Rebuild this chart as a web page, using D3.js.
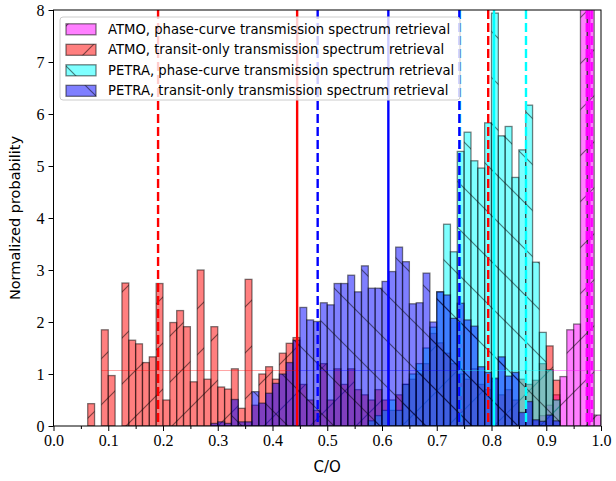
<!DOCTYPE html>
<html><head><meta charset="utf-8">
<script src="https://cdn.jsdelivr.net/npm/d3@7"></script>
<style>body{margin:0;background:#fff}svg{display:block}</style>
</head><body>
<script>
// ---- data ----
const binWidth = 0.0125; // 80 bins over [0,1]
const atmoPhase = [0,0,0,0,0,0,0,0,0,0, 0,0,0,0,0,0,0,0,0,0, 0,0,0,0,0,0,0,0,0,0, 0,0,0,0,0,0,0,0,0,0,
  0,0,0,0,0,0,0,0,0,0, 0,0,0,0,0,0,0,0,0,0, 0,0,0,0,0,0,0,0,0,0, 0.1,0.2,0.4,0.6,0.95,1.85,1.96,12,14,0.21];
const atmoTransit = [0,0,0,0,0,0.43,0,1.85,0.97,0, 2.75,1.65,1.58,1.22,1.33,2.74,0.50,1.99,2.22,1.91,
  0.85,3.0,0.90,1.91,0.75,0.71,1.10,0.34,2.82,0.4, 1.0,1.14,0.9,1.40,1.59,1.7,0.8,0.5,0.3,1.2,
  0.5,1.1,0.8,1.1,0.7,0.6,0.5,0.7,0.5,0.3, 0.6,0.8,0.9,1.0,1.2,1.78,1.6,1.4,1.2,1.0,
  0.9,1.1,0.8,0.7,0.9,0.6,0.7,0.5,0.9,0.8, 0.88,1.2,1.54,0.88,0,0,0,0,0,0];
const petraPhase = [0,0,0,0,0,0,0,0,0,0, 0,0,0,0,0,0,0,0,0,0, 0,0,0,0,0,0,0,0,0,0, 0,0,0,0,0,0,0,0,0,0,
  0,0,0,0,0,0,0.1,0.2,0.3,0.5, 0.3,0.8,1.0,1.2,1.5,1.9,2.58,3.88,3.35,5.28,
  5.65,5.1,4.96,5.83,7.94,5.58,5.76,4.78,5.31,6.17, 3.15,1.80,1.08,0.5,0,0,0,0,0,0];
const petraTransit = [0,0,0,0,0,0,0,0,0,0, 0,0,0,0,0,0,0,0,0,0, 0,0,0,0.05,0.08,0.05,0.51,0.08,0.08,0.66,
  0.44,0.63,0.82,1.0,1.22,1.65,2.28,2.04,2.01,2.37, 2.33,2.74,2.74,2.90,2.58,3.08,2.65,2.65,2.78,2.97,
  3.44,3.16,2.35,2.37,2.94,2.0,2.58,2.52,2.07,2.36, 2.04,1.92,1.14,1.03,0.92,1.33,0.96,1.03,0.26,0.47,
  0.12,0.09,0.21,0.1,0,0,0,0,0,0];
const seriesLabels = ["ATMO, phase-curve transmission spectrum retrieval",
  "ATMO, transit-only transmission spectrum retrieval",
  "PETRA, phase-curve transmission spectrum retrieval",
  "PETRA, transit-only transmission spectrum retrieval"];
const seriesColors = ["#ff00ff","#ff0000","#00ffff","#0000ff"];
const seriesHatch = ["fwd","fwd","back","back"];
// medians and 1-sigma bounds per series
const medians = [0.9786, 0.445, 0.8046, 0.6116];
const lowers  = [0.974, 0.191, 0.7425, 0.4825];
const uppers  = [0.983, 0.794, 0.863, 0.7413];
// thin reference level (flat prior density) segments
const priorLevel = 1.067;
const priorStart = [0.91, 0.0875, 0.7413, 0.445];
const priorEnd   = [1.0, 0.445, 0.91, 0.7413];
const xTicks = [0,0.1,0.2,0.3,0.4,0.5,0.6,0.7,0.8,0.9,1.0];
const xMinor = [0.05,0.15,0.25,0.35,0.45,0.55,0.65,0.75,0.85,0.95];
const yTicks = [0,1,2,3,4,5,6,7,8];

// ---- layout ----
const W=616,H=481, L=53.5, R=601, T=10, B=426;
const svg=d3.select("body").append("svg").attr("width",W).attr("height",H);
const x=d3.scaleLinear().domain([0,1]).range([L,R]);
const y=d3.scaleLinear().domain([0,8]).range([B,T]);
const defs=svg.append("defs");
const sp=46;
const pf=defs.append("pattern").attr("id","fwd").attr("patternUnits","userSpaceOnUse").attr("width",sp).attr("height",sp);
pf.append("path").attr("d",`M0,${sp} L${sp},0 M${-sp/2},${sp/2} L${sp/2},${-sp/2} M${sp/2},${sp*1.5} L${sp*1.5},${sp/2}`).attr("stroke","#000").attr("stroke-width",1.2).attr("fill","none");
const pb=defs.append("pattern").attr("id","back").attr("patternUnits","userSpaceOnUse").attr("width",sp).attr("height",sp);
pb.append("path").attr("d",`M0,0 L${sp},${sp} M${-sp/2},${sp/2} L${sp/2},${sp*1.5} M${sp/2},${-sp/2} L${sp*1.5},${sp/2}`).attr("stroke","#000").attr("stroke-width",1.2).attr("fill","none");
defs.append("clipPath").attr("id","clip").append("rect").attr("x",L).attr("y",T).attr("width",R-L).attr("height",B-T);

const plot=svg.append("g").attr("clip-path","url(#clip)");
const allSeries=[atmoPhase,atmoTransit,petraPhase,petraTransit];
allSeries.forEach((vals,si)=>{
  const g=plot.append("g");
  const data=vals.map((v,i)=>({i,v})).filter(d=>d.v>0);
  g.selectAll("rect.f").data(data).join("rect").attr("class","f")
    .attr("x",d=>x(d.i*binWidth)).attr("width",d=>x((d.i+1)*binWidth)-x(d.i*binWidth))
    .attr("y",d=>y(d.v)).attr("height",d=>y(0)-y(d.v))
    .attr("fill",seriesColors[si]).attr("fill-opacity",0.5)
    .attr("stroke","#000").attr("stroke-opacity",0.5).attr("stroke-width",1.3);
  g.selectAll("rect.h").data(data).join("rect").attr("class","h")
    .attr("x",d=>x(d.i*binWidth)).attr("width",d=>x((d.i+1)*binWidth)-x(d.i*binWidth))
    .attr("y",d=>y(d.v)).attr("height",d=>y(0)-y(d.v))
    .attr("fill",`url(#${seriesHatch[si]})`).attr("opacity",0.5);
});
// thin level lines
[0,1,2,3].forEach(si=>{
  plot.append("line").attr("x1",x(priorStart[si])).attr("x2",x(priorEnd[si]))
    .attr("y1",y(priorLevel)).attr("y2",y(priorLevel))
    .attr("stroke",seriesColors[si]).attr("stroke-width",0.6).attr("stroke-opacity",0.6);
});
// vertical lines
[0,1,2,3].forEach(si=>{
  const c=seriesColors[si];
  [[lowers[si],true],[medians[si],false],[uppers[si],true]].forEach(([v,dash])=>{
    plot.append("line").attr("x1",x(v)).attr("x2",x(v)).attr("y1",T).attr("y2",B)
      .attr("stroke",c).attr("stroke-width",2.4).attr("stroke-dasharray",dash?"9,4":null);
  });
});

// axes
const gx=svg.append("g").attr("transform",`translate(0,${B})`)
  .call(d3.axisBottom(x).tickValues(xTicks).tickFormat(d3.format(".1f")).tickSize(5).tickPadding(4));
const gxm=svg.append("g").attr("transform",`translate(0,${B})`)
  .call(d3.axisBottom(x).tickValues(xMinor).tickFormat("").tickSize(3));
const gy=svg.append("g").attr("transform",`translate(${L},0)`)
  .call(d3.axisLeft(y).tickValues(yTicks).tickFormat(d3.format("d")).tickSize(5).tickPadding(4));
[gx,gy,gxm].forEach(g=>{g.select(".domain").remove();g.selectAll("line").attr("stroke","#000").attr("stroke-width",1);});
[gx,gy].forEach(g=>g.selectAll("text").attr("font-family","'Liberation Serif','DejaVu Serif',serif").attr("font-size",16).attr("fill","#000"));
svg.append("rect").attr("x",L).attr("y",T).attr("width",R-L).attr("height",B-T).attr("fill","none").attr("stroke","#000").attr("stroke-width",1);

// axis labels
svg.append("text").attr("x",(L+R)/2).attr("y",472).attr("text-anchor","middle")
  .attr("font-family","'DejaVu Sans',sans-serif").attr("font-size",15).text("C/O");
svg.append("text").attr("transform",`translate(20,${(T+B)/2}) rotate(-90)`).attr("text-anchor","middle")
  .attr("font-family","'DejaVu Sans',sans-serif").attr("font-size",14.5).text("Normalized probability");

// legend
const lg=svg.append("g");
lg.append("rect").attr("x",60).attr("y",17).attr("width",400).attr("height",83).attr("rx",3)
  .attr("fill","#fff").attr("fill-opacity",0.8).attr("stroke","#ccc");
seriesLabels.forEach((lab,si)=>{
  const cy=29.3+si*20.5;
  lg.append("rect").attr("x",66).attr("y",cy-5.5).attr("width",30).attr("height",11)
    .attr("fill",seriesColors[si]).attr("fill-opacity",0.5).attr("stroke","#000").attr("stroke-opacity",0.5).attr("stroke-width",1.3);
  lg.append("rect").attr("x",66).attr("y",cy-5.5).attr("width",30).attr("height",11)
    .attr("fill",`url(#${seriesHatch[si]})`).attr("opacity",0.5);
  lg.append("text").attr("x",108).attr("y",cy+4.5).attr("font-family","'DejaVu Sans',sans-serif")
    .attr("font-size",13.2).text(lab);
});
</script>
</body></html>
